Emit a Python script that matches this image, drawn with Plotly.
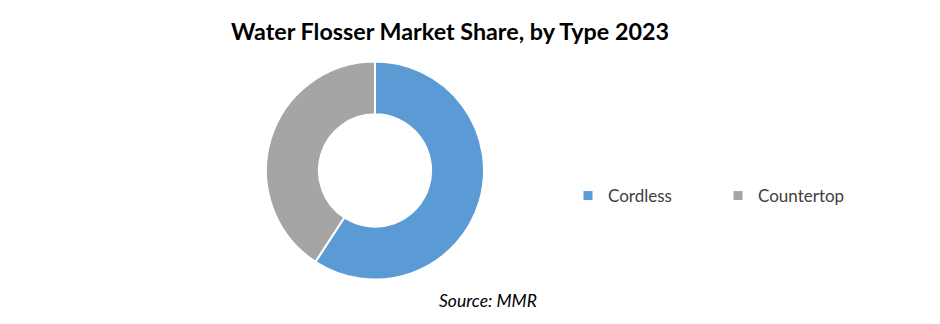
import plotly.graph_objects as go

categories = ["Cordless", "Countertop"]
shares = [59.2, 40.8]
colors = ["#5B9BD5", "#A5A5A5"]

W, H = 940, 324
cx, cy, r = 375, 170.5, 109

fig = go.Figure()
fig.add_trace(go.Pie(
    labels=categories, values=shares, hole=0.515, sort=False,
    direction="clockwise", rotation=0, textinfo="none",
    marker=dict(colors=colors, line=dict(color="white", width=2)),
    showlegend=False,
    domain=dict(x=[(cx - r) / W, (cx + r) / W], y=[(H - cy - r) / H, (H - cy + r) / H]),
))
for name, col in zip(categories, colors):
    fig.add_trace(go.Scatter(x=[None], y=[None], mode="markers", name=name,
                             marker=dict(symbol="square", size=9, color=col)))

fig.update_layout(
    width=W, height=H, margin=dict(l=0, r=0, t=0, b=0, autoexpand=False),
    paper_bgcolor="white", plot_bgcolor="white",
    font=dict(family="Lato", color="#404040"),
    xaxis=dict(visible=False), yaxis=dict(visible=False),
    title=dict(text="<b>Water Flosser Market Share, by Type 2023</b>", x=450 / W, xanchor="center",
               y=1 - 32 / H, yanchor="middle", font=dict(size=23.3, color="#000000", family="Lato")),
    legend=dict(orientation="h", x=568 / W, xanchor="left", y=1 - 196 / H, yanchor="middle",
                font=dict(size=17, color="#404040"), entrywidth=105, itemwidth=30,
                bgcolor="rgba(0,0,0,0)"),
    annotations=[dict(text="<i>Source: MMR</i>", x=488 / W, y=1 - 300 / H, xref="paper", yref="paper",
                      showarrow=False, font=dict(size=17.5, color="#000000"), xanchor="center", yanchor="middle")],
)
fig.write_html("out.html")
